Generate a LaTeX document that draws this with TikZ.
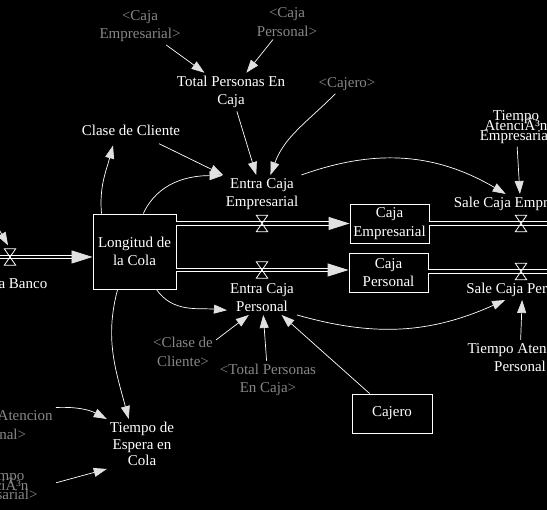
\documentclass[tikz,border=0pt]{standalone}
\usepackage{fontspec}
\setmainfont{Liberation Serif}
\usetikzlibrary{arrows.meta}
\definecolor{ghostgray}{RGB}{135,135,135}
\definecolor{tipgray}{RGB}{225,225,225}
\tikzstyle{aux}=[text=white,align=center,inner sep=3pt,font=\fontsize{15pt}{18.5pt}\selectfont]
\tikzstyle{ghost}=[aux,text=ghostgray]
\tikzstyle{stock}=[rectangle,draw=white,line width=0.9pt,minimum width=79pt,minimum height=39pt,inner sep=0pt,text=white,align=center,font=\fontsize{15pt}{18.5pt}\selectfont]
\tikzstyle{valve}=[rectangle,minimum width=11pt,minimum height=16pt,inner sep=0pt]
\tikzstyle{hourglass}=[white,line width=0.8pt]
\tikzstyle{pipe}=[draw=white,line width=0.9pt,double=black,double distance=2.5pt]
\tikzstyle{pipeflow}=[pipe,-{Triangle[length=21pt,width=13pt,color=tipgray]}]
\tikzstyle{arrow}=[white,line width=0.7pt,->,>={Triangle[length=13pt,width=9pt,color=tipgray]}]

\begin{document}
\begin{tikzpicture}[node distance=50pt]
            \useasboundingbox (-134.5pt,251.5pt) rectangle (412.5pt,-258.5pt);
            \clip (-134.5pt,251.5pt) rectangle (412.5pt,-258.5pt);
            \fill[black] (-134.5pt,251.5pt) rectangle (412.5pt,-258.5pt);
            % niveles y valvulas
            \node (cola)[stock,minimum width=83pt,minimum height=75pt]{Longitud de\\la Cola};
            \node (vEntE)[valve,right of=cola,xshift=77.5pt,yshift=28pt]{};
            \node (vEntP)[valve,below of=vEntE,yshift=3.5pt]{};
            \node (cajaE)[stock,right of=vEntE,xshift=77.5pt]{Caja\\Empresarial};
            \node (cajaP)[stock,below of=cajaE,xshift=-1pt,yshift=1pt]{Caja\\Personal};
            \node (vSalE)[valve,right of=cajaE,xshift=81.5pt]{};
            \node (vSalP)[valve,below of=vSalE,yshift=2pt]{};
            \node (vBanco)[valve,left of=cola,xshift=-74.5pt,yshift=-5.5pt]{};
            \node (cajero)[stock,below of=cajaP,xshift=3.5pt,yshift=-91pt,minimum width=80pt]{Cajero};
            \node (srcBanco)[coordinate,left of=vBanco,xshift=-30pt]{};
            \node (sinkE)[coordinate,right of=vSalE]{};
            \node (sinkP)[coordinate,right of=vSalP]{};
            \node (srcInfl)[coordinate,above of=vBanco,xshift=-22pt,yshift=-3pt]{};
            % flujos
            \node (lBanco)[aux,below of=vBanco,yshift=23pt]{Entra Banco};
            \node (lEntE)[aux,above of=vEntE,yshift=-20.5pt]{Entra Caja\\Empresarial};
            \node (lEntP)[aux,below of=vEntP,yshift=22.5pt]{Entra Caja\\Personal};
            \node (lSalE)[aux,above of=vSalE,xshift=-0.5pt,yshift=-30.5pt]{Sale Caja Empresarial};
            \node (lSalP)[aux,below of=vSalP,xshift=1.5pt,yshift=31.5pt]{Sale Caja Personal};
            % auxiliares
            \node (total)[aux,above of=lEntE,xshift=-31pt,yshift=52pt]{Total Personas En\\Caja};
            \node (clase)[aux,above of=cola,xshift=-3.5pt,yshift=71.5pt]{Clase de Cliente};
            \node (tEsp)[aux,below of=cola,xshift=7.5pt,yshift=-142.5pt,font=\fontsize{15pt}{16.5pt}\selectfont]{Tiempo de\\Espera en\\Cola};
            \node (tAE)[aux,above of=lSalE,xshift=-4.5pt,yshift=27pt]{Tiempo\\[-8.5pt]AtenciÃ³n\\[-8.5pt]Empresarial};
            \node (tAP)[aux,below of=lSalP,xshift=-2.5pt,yshift=-17.5pt]{Tiempo Atencion\\Personal};
            % variables sombra
            \node (ghCE)[ghost,above of=clase,xshift=9pt,yshift=54pt]{<Caja\\Empresarial>};
            \node (ghCP)[ghost,above of=total,xshift=56pt,yshift=20pt]{<Caja\\Personal>};
            \node (ghCaj)[ghost,right of=total,xshift=66pt,yshift=8pt]{<Cajero>};
            \node (ghCl)[ghost,below of=lEntP,xshift=-79pt,yshift=-4.5pt]{<Clase de\\Cliente>};
            \node (ghTP)[ghost,below of=lEntP,xshift=6pt,yshift=-32.5pt]{<Total Personas\\En Caja>};
            \node (ghTAP)[ghost,left of=tEsp,xshift=-96pt,yshift=19pt]{<Tiempo Atencion\\Personal>};
            \node (ghTAE)[ghost,below of=ghTAP,xshift=1pt,yshift=-12pt]{<Tiempo\\[-9pt]AtenciÃ³n\\[-9pt]Empresarial>};
            % tuberias
            \draw [pipeflow] (srcBanco) -- (vBanco -| cola.west);
            \draw [pipeflow] (vEntE -| cola.east) -- (vEntE -| cajaE.west);
            \draw [pipeflow] (vEntP -| cola.east) -- (vEntP -| cajaP.west);
            \draw [pipe] (vSalE -| cajaE.east) -- (sinkE);
            \draw [pipe] (vSalP -| cajaP.east) -- (sinkP);
            \foreach \v in {vBanco,vEntE,vEntP,vSalE,vSalP}
                \draw [hourglass] (\v.north west) -- (\v.north east) -- (\v.south west) -- (\v.south east) -- cycle;
            % conectores
            \draw [arrow,shorten >=4pt] (srcInfl) -- (vBanco.north);
            \draw [arrow] (ghCE) -- (total);
            \draw [arrow] (ghCP) -- (total);
            \draw [arrow] (total) -- (lEntE);
            \draw [arrow,shorten <=12pt] (clase) -- (lEntE);
            \draw [arrow] (ghCaj.220) to[out=225,in=70] (lEntE.66);
            \draw [arrow] (cola.131) to[out=95,in=255] ([xshift=-18pt,yshift=-7pt]clase.south);
            \draw [arrow] (cola.77) to[out=65,in=180] (lEntE.155);
            \draw [arrow] (cola.300) to[out=-55,in=175] (lEntP.200);
            \draw [arrow] (ghCl.20) -- (lEntP.233);
            \draw [arrow] (ghTP) -- (lEntP);
            \draw [arrow] (cajero) -- (lEntP);
            \draw [arrow] (cola.246) to[out=255,in=105] (tEsp.118);
            \draw [arrow] (ghTAP.north east) to[bend left=15] (tEsp.north west);
            \draw [arrow,shorten <=16pt] (ghTAE.east) -- (tEsp.south west);
            \draw [arrow] (lEntE.north east) to[bend left=25] (lSalE.146);
            \draw [arrow] (lEntP.south east) to[bend right=20] (lSalP.210);
            \draw [arrow] (tAE) -- (lSalE);
            \draw [arrow] (tAP) -- (lSalP);
        \end{tikzpicture}
\end{document}
